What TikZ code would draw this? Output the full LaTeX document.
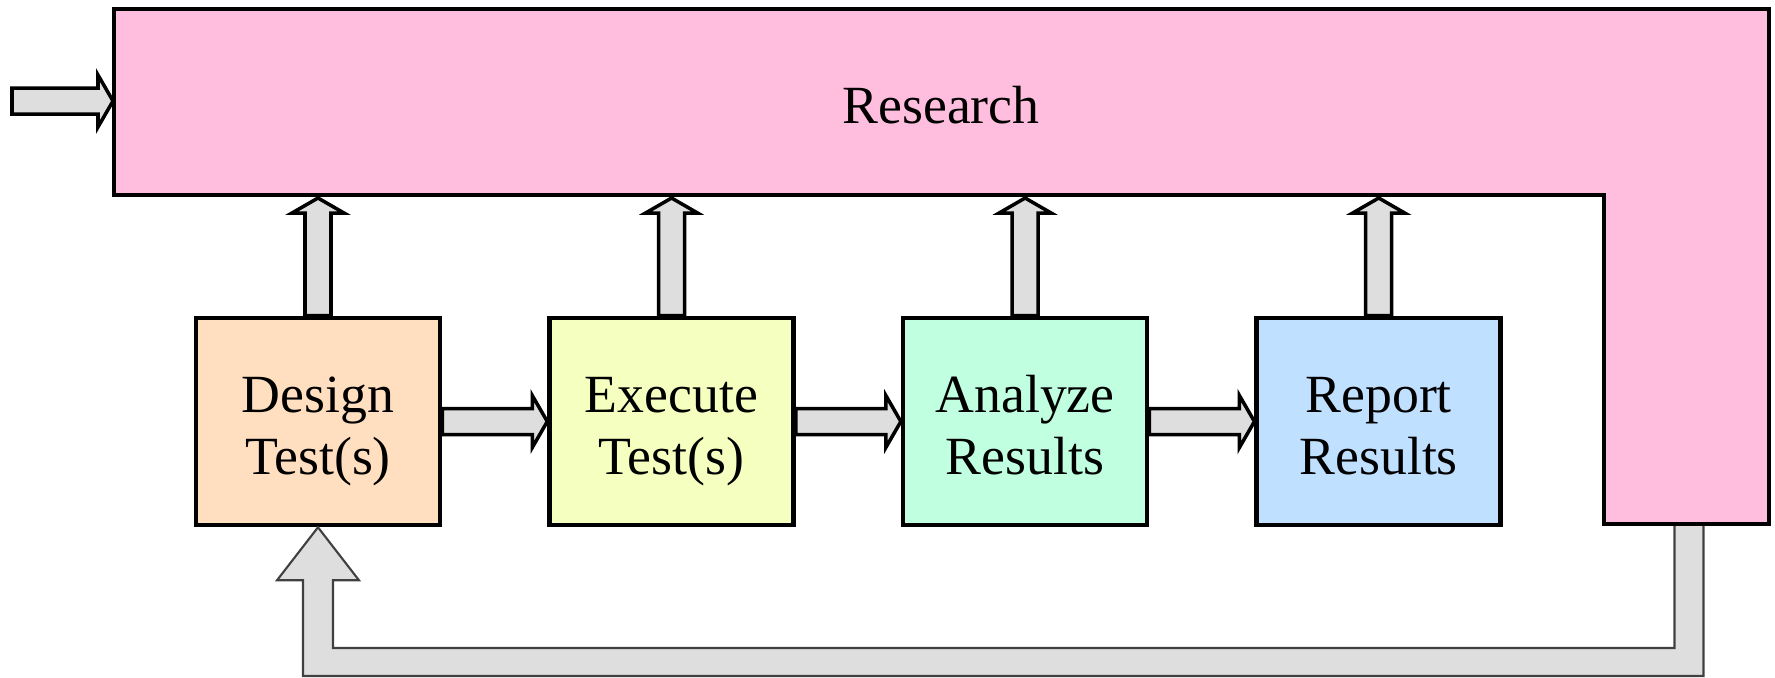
\documentclass[tikz,border=0pt]{standalone}
\usepackage{fontspec}
\setmainfont{Liberation Serif}
\usetikzlibrary{positioning,calc}

\definecolor{researchpink}{HTML}{FFBEDE}
\definecolor{designfill}{HTML}{FFDFC0}
\definecolor{executefill}{HTML}{F4FFC0}
\definecolor{analyzefill}{HTML}{C0FFE0}
\definecolor{reportfill}{HTML}{C0E0FF}
\definecolor{arrowgray}{HTML}{DEDEDE}

\tikzset{
  labelfont/.style={font=\fontsize{15.3}{17.9}\selectfont},
  stage/.style={draw, line width=1.3pt, minimum width=2.44cm, minimum height=2.07cm,
    align=center, inner sep=0pt, labelfont},
  fat/.style={draw, line width=1pt, fill=arrowgray, line join=miter},
  backarrow/.style={draw=black!75, line width=0.6pt, fill=arrowgray},
}

% two lines of a stage, same baselines in every box
\newcommand{\stagetext}[2]{\rule{0pt}{0.58cm}#1\\#2\rule[-0.14cm]{0pt}{0.14cm}}

% block arrow from #1 to #2
\newcommand{\fatarrow}[2]{%
  \path (#1) coordinate (fa-a) (#2) coordinate (fa-b);
  \coordinate (fa-h) at ($(fa-b)!0.15cm!(fa-a)$);
  \filldraw[fat] ($(fa-a)!0.13cm!90:(fa-b)$) -- ($(fa-h)!0.13cm!90:(fa-b)$)
    -- ($(fa-h)!0.26cm!90:(fa-b)$) -- (fa-b) -- ($(fa-h)!0.26cm!-90:(fa-b)$)
    -- ($(fa-h)!0.13cm!-90:(fa-b)$) -- ($(fa-a)!0.13cm!-90:(fa-b)$) -- cycle;
}

\begin{document}
\begin{tikzpicture}
\useasboundingbox (0,0) rectangle (17.75,6.77);

% research frame
\filldraw[fill=researchpink, line width=1.3pt] (1.14,6.68) -- (17.69,6.68) -- (17.69,1.53)
  -- (16.04,1.53) -- (16.04,4.82) -- (1.14,4.82) -- cycle;
\node[labelfont] (research) at (9.41,5.72) {Research};
\coordinate (bandbot) at (0,4.79);
\coordinate (start) at (0.12,5.76);
\coordinate (researchin) at (1.13,5.76);
\coordinate (fbtop) at (16.89,1.51);
\coordinate (fbbot) at (0,0.15);

% stages
\node[stage, fill=designfill] (design) at (3.18,2.555) {\stagetext{Design}{Test(s)}};
\node[stage, fill=executefill, right=1.05cm of design] (execute) {\stagetext{Execute}{Test(s)}};
\node[stage, fill=analyzefill, right=1.05cm of execute] (analyze) {\stagetext{Analyze}{Results}};
\node[stage, fill=reportfill, right=1.05cm of analyze] (report) {\stagetext{Report}{Results}};

% arrows
\fatarrow{start}{researchin}
\fatarrow{design.east}{execute.west}
\fatarrow{execute.east}{analyze.west}
\fatarrow{analyze.east}{report.west}
\foreach \s in {design,execute,analyze,report}
  \fatarrow{\s.north}{\s.north |- bandbot};

% feedback loop
\coordinate (fbright) at (fbtop |- fbbot);
\coordinate (fbleft) at (design.south |- fbbot);
\filldraw[backarrow] ($(fbtop)+(-0.145,0)$) -- ($(fbright)+(-0.145,0.14)$)
  -- ($(fbleft)+(0.15,0.14)$) -- ($(design.south)+(0.15,-0.53)$)
  -- ($(design.south)+(0.41,-0.53)$) -- (design.south) -- ($(design.south)+(-0.41,-0.53)$)
  -- ($(design.south)+(-0.15,-0.53)$) -- ($(fbleft)+(-0.15,-0.14)$)
  -- ($(fbright)+(0.145,-0.14)$) -- ($(fbtop)+(0.145,0)$);
\end{tikzpicture}
\end{document}
